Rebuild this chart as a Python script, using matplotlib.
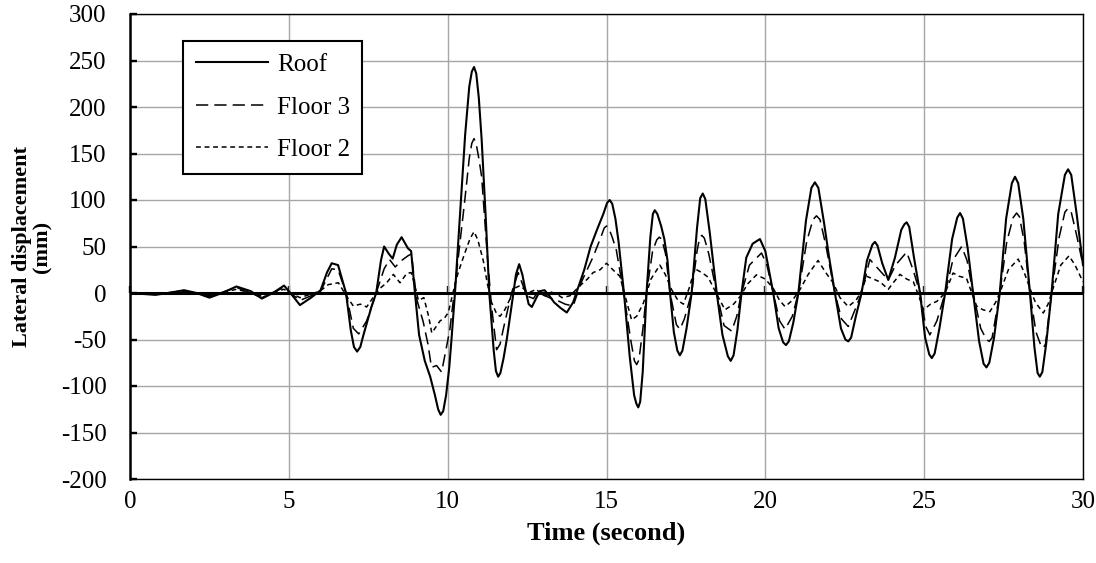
import matplotlib
matplotlib.use("Agg")
import matplotlib.pyplot as plt
import numpy as np

# ---- data (time in s, displacement in mm) ----
roof_points = [
    (0.0, 0), (0.4, -1), (0.8, -2), (1.2, 0), (1.7, 3), (2.1, 0), (2.5, -5), (2.9, 0), (3.35, 7), (3.8, 2),
    (4.15, -6), (4.5, 0), (4.85, 8), (5.05, 0), (5.35, -13), (5.7, -5), (6.0, 3), (6.2, 22), (6.35, 32), (6.55, 30),
    (6.8, 0), (6.95, -40), (7.05, -58), (7.15, -63), (7.25, -58), (7.35, -45), (7.6, -15), (7.75, 0), (7.9, 35),
    (8.0, 50), (8.15, 42), (8.27, 37), (8.4, 52), (8.55, 60), (8.75, 48), (8.85, 45), (8.97, 0), (9.1, -45),
    (9.28, -73), (9.45, -90), (9.6, -110), (9.7, -125), (9.78, -131), (9.86, -127), (9.95, -110), (10.05, -80),
    (10.12, -50), (10.23, 0), (10.4, 90), (10.55, 170), (10.68, 222), (10.76, 238), (10.83, 243), (10.9, 236),
    (10.98, 210), (11.07, 165), (11.2, 80), (11.31, 0), (11.45, -62), (11.52, -84), (11.59, -90), (11.66, -86),
    (11.76, -70), (11.86, -50), (12.07, 0), (12.15, 20), (12.25, 31), (12.35, 20), (12.43, 6), (12.55, -12),
    (12.65, -15), (12.78, -6), (12.9, 2), (13.05, 3), (13.2, -3), (13.35, -10), (13.55, -16), (13.75, -21),
    (13.95, -10), (14.1, 5), (14.3, 25), (14.5, 50), (14.7, 68), (14.9, 85), (15.02, 97), (15.1, 100),
    (15.18, 96), (15.28, 80), (15.38, 55), (15.55, 0), (15.73, -68), (15.87, -110), (15.94, -119), (16.0, -123),
    (16.06, -117), (16.14, -85), (16.26, 0), (16.38, 60), (16.46, 85), (16.52, 89), (16.6, 85), (16.72, 72),
    (16.82, 58), (16.92, 35), (17.0, 0), (17.12, -42), (17.23, -62), (17.31, -67), (17.39, -62), (17.52, -38),
    (17.68, 0), (17.85, 70), (17.95, 102), (18.03, 107), (18.11, 101), (18.25, 65), (18.47, 0), (18.65, -45),
    (18.82, -68), (18.91, -73), (19.0, -67), (19.12, -40), (19.25, 0), (19.4, 38), (19.6, 53), (19.83, 58),
    (20.0, 45), (20.25, 0), (20.42, -38), (20.56, -53), (20.65, -56), (20.74, -52), (20.88, -32), (21.04, 0),
    (21.28, 78), (21.45, 113), (21.56, 119), (21.67, 113), (21.85, 75), (22.0, 40), (22.19, 0), (22.38, -38),
    (22.52, -50), (22.61, -52), (22.7, -48), (22.85, -25), (23.03, 0), (23.2, 35), (23.37, 52), (23.45, 55),
    (23.53, 51), (23.68, 32), (23.87, 14), (24.08, 38), (24.28, 68), (24.38, 74), (24.45, 76), (24.53, 71),
    (24.68, 38), (24.87, 0), (25.03, -48), (25.16, -66), (25.24, -70), (25.33, -65), (25.48, -38), (25.66, 0),
    (25.88, 58), (26.04, 81), (26.13, 86), (26.22, 80), (26.37, 48), (26.54, 0), (26.73, -52), (26.87, -76),
    (26.96, -80), (27.05, -75), (27.2, -48), (27.38, 0), (27.58, 80), (27.76, 118), (27.86, 125), (27.96, 118),
    (28.12, 80), (28.33, 0), (28.47, -58), (28.57, -86), (28.64, -90), (28.72, -85), (28.84, -55), (29.01, 0),
    (29.22, 85), (29.43, 127), (29.53, 133), (29.63, 127), (29.8, 85), (30.0, 30),
]

floor3_points = [
    (0.0, 0), (0.8, -1.5), (1.7, 2.5), (2.5, -4), (3.35, 6), (4.15, -5), (4.85, 6), (5.05, 0), (5.35, -8),
    (5.7, -3), (6.0, 2), (6.35, 26), (6.55, 25), (6.8, 0), (7.03, -38), (7.2, -44), (7.45, -30), (7.75, 0),
    (8.0, 26), (8.17, 36), (8.35, 28), (8.55, 35), (8.75, 40), (8.86, 42), (9.02, -6), (9.23, -31), (9.38, -55),
    (9.49, -80), (9.65, -78), (9.81, -85), (9.95, -60), (10.07, -39), (10.28, 22), (10.54, 100), (10.68, 145),
    (10.76, 161), (10.83, 166), (10.9, 160), (10.98, 145), (11.07, 125), (11.25, 39), (11.38, -14), (11.54, -61),
    (11.65, -55), (11.75, -39), (12.01, 0), (12.22, 22), (12.35, 10), (12.49, -3), (12.7, -6), (12.85, 2),
    (13.0, -2), (13.2, -5), (13.45, -8), (13.7, -12), (13.95, -14), (14.2, 11), (14.58, 39), (14.8, 58),
    (14.93, 70), (15.0, 72), (15.07, 70), (15.18, 60), (15.31, 46), (15.54, 0), (15.76, -50), (15.88, -73),
    (15.95, -77), (16.02, -72), (16.14, -40), (16.26, 0), (16.45, 45), (16.58, 57), (16.66, 60), (16.74, 58),
    (16.86, 42), (17.0, 0), (17.2, -34), (17.31, -39), (17.45, -28), (17.68, 0), (17.85, 45), (17.93, 59),
    (18.0, 62), (18.08, 59), (18.22, 42), (18.47, 0), (18.7, -35), (18.94, -41), (19.1, -25), (19.25, 0),
    (19.5, 30), (19.88, 43), (20.05, 30), (20.25, 0), (20.45, -30), (20.62, -39), (20.85, -25), (21.04, 0),
    (21.3, 55), (21.5, 79), (21.61, 83), (21.72, 79), (21.9, 52), (22.19, 0), (22.4, -28), (22.61, -36),
    (22.8, -20), (23.03, 0), (23.29, 36), (23.5, 28), (23.87, 14), (24.1, 30), (24.45, 44), (24.65, 25),
    (24.87, 0), (25.05, -36), (25.18, -45), (25.4, -30), (25.66, 0), (25.9, 35), (26.18, 50), (26.35, 35),
    (26.54, 0), (26.78, -38), (26.96, -50), (27.05, -52), (27.14, -48), (27.38, 0), (27.6, 55), (27.8, 81),
    (27.91, 86), (28.0, 82), (28.15, 55), (28.33, 0), (28.52, -42), (28.68, -57), (28.75, -59), (28.82, -55),
    (29.01, 0), (29.25, 60), (29.43, 87), (29.53, 91), (29.63, 87), (29.8, 62), (30.0, 30),
]

floor2_points = [
    (0.0, 0), (0.8, -1), (1.7, 1.5), (2.5, -3), (3.35, 4), (4.15, -3), (4.85, 4), (5.05, 0), (5.35, -5),
    (5.98, 2), (6.24, 9), (6.56, 11), (6.82, -3.6), (7.03, -14), (7.25, -12), (7.45, -15), (7.71, -2), (7.87, 5),
    (8.08, 11), (8.29, 20), (8.5, 11), (8.71, 21), (8.85, 22), (8.92, 14), (9.08, -8), (9.25, -5), (9.4, -25),
    (9.5, -43), (9.6, -38), (9.76, -30), (9.9, -27), (10.02, -21), (10.2, 5), (10.33, 22), (10.54, 43),
    (10.7, 58), (10.83, 66), (10.95, 57), (11.12, 35), (11.25, 10), (11.38, -10), (11.55, -23), (11.65, -25),
    (11.8, -18), (11.96, -6.5), (12.1, 5), (12.28, 8), (12.45, 3), (12.59, 1), (12.8, 4), (12.95, -2),
    (13.1, -3), (13.25, 1), (13.43, -1), (13.6, -5), (13.85, -3), (14.17, 8), (14.4, 15), (14.58, 22),
    (14.8, 25), (15.0, 32), (15.2, 25), (15.42, 18), (15.6, -5), (15.79, -29), (15.95, -25), (16.16, -11),
    (16.4, 15), (16.68, 30), (16.85, 20), (17.05, 3.6), (17.25, -8), (17.42, -12), (17.6, 5), (17.78, 26),
    (18.0, 22), (18.2, 17), (18.45, 0), (18.73, -18), (19.0, -12), (19.2, -4), (19.45, 10), (19.72, 19.5),
    (20.0, 15), (20.25, 5), (20.45, -8), (20.62, -14.6), (20.85, -8), (21.09, 3.6), (21.35, 20), (21.66, 35),
    (21.9, 22), (22.14, 10.7), (22.35, -5), (22.61, -14.6), (22.85, -8), (23.0, 0), (23.19, 18), (23.4, 15),
    (23.61, 12), (23.87, 4), (24.05, 12), (24.24, 20), (24.45, 15), (24.66, 12), (24.85, -5), (24.98, -18),
    (25.2, -12), (25.4, -9), (25.66, 0), (25.91, 21.5), (26.1, 18), (26.33, 16), (26.5, 0), (26.65, -14),
    (26.85, -18), (27.07, -20), (27.25, -10), (27.38, 0), (27.65, 25), (27.96, 36.5), (28.15, 22), (28.33, 5),
    (28.5, -10), (28.75, -21.5), (28.9, -12), (29.01, 0), (29.3, 30), (29.56, 40), (29.75, 30), (30.0, 12),
]

series_labels = ["Roof", "Floor 3", "Floor 2"]
x_ticks = [0, 5, 10, 15, 20, 25, 30]
y_ticks = [-200, -150, -100, -50, 0, 50, 100, 150, 200, 250, 300]

# ---- figure ----
plt.rcParams['font.family'] = ['Liberation Serif', 'DejaVu Serif']
plt.rcParams['axes.unicode_minus'] = False
fig = plt.figure(figsize=(10.96, 5.63), dpi=100)
ax = fig.add_axes([130 / 1096, 1 - 479 / 563, 953 / 1096, 465 / 563])

styles = [dict(lw=1.5, linestyle='-'),
          dict(lw=1.1, linestyle=(0, (8, 4))),
          dict(lw=1.1, linestyle=(0, (3.2, 2.4)))]
for pts, lab, st in zip([roof_points, floor3_points, floor2_points], series_labels, styles):
    arr = np.array(pts, dtype=float)
    ax.plot(arr[:, 0], arr[:, 1], color='black', label=lab, zorder=3, **st)

ax.set_xlim(x_ticks[0], x_ticks[-1])
ax.set_ylim(y_ticks[0], y_ticks[-1])
ax.set_xticks(x_ticks)
ax.set_yticks(y_ticks)
ax.grid(True, color='#a6a6a6', lw=1.0)
ax.set_axisbelow(True)

ax.tick_params(axis='x', length=0, pad=9, labelsize=18)
ax.tick_params(axis='y', direction='in', length=5, width=1.7, pad=17, labelsize=18)

for s in ['top', 'right', 'bottom']:
    ax.spines[s].set_linewidth(1.0)
    ax.spines[s].set_color('black')
ax.spines['left'].set_linewidth(1.8)

# horizontal axis line through zero with small inward (upward) ticks
ax.axhline(0, color='black', lw=2.2, zorder=4)
sec = ax.secondary_xaxis((0 - y_ticks[0]) / (y_ticks[-1] - y_ticks[0]))
sec.set_xticks(x_ticks)
for sp in sec.spines.values():
    sp.set_visible(False)
sec.tick_params(axis='x', direction='out', length=5, width=1.7, labelbottom=False, labeltop=False,
                bottom=False, top=True)

ax.set_xlabel('Time (second)', fontsize=19, fontweight='bold', labelpad=6)
ax.set_ylabel('Lateral displacement\n(mm)', fontsize=16, fontweight='bold', labelpad=6, linespacing=1.0)

leg = ax.legend(loc='upper left', bbox_to_anchor=((183 - 130) / 953, (479 - 41) / 465), fontsize=18,
                frameon=True, fancybox=False, edgecolor='black', framealpha=1, handlelength=2.9,
                handletextpad=0.35, labelspacing=0.8, borderpad=0.5, borderaxespad=0)
leg.get_frame().set_linewidth(1.5)

fig.savefig('out.png', dpi=100)
